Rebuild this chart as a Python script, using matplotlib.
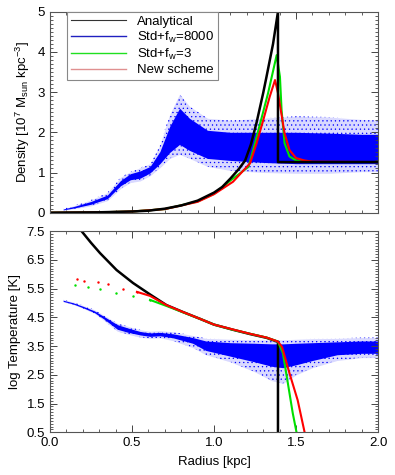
import matplotlib
matplotlib.use('Agg')
import matplotlib.pyplot as plt
from matplotlib.ticker import MultipleLocator

plt.rcParams['font.family'] = ['Liberation Sans', 'DejaVu Sans']
plt.rcParams['mathtext.fontset'] = 'custom'
plt.rcParams['mathtext.rm'] = 'Liberation Sans'
plt.rcParams['mathtext.it'] = 'Liberation Sans'
plt.rcParams['hatch.linewidth'] = 0.4

BLUE = '#0000ff'
GREEN = '#00e000'
RED = '#ff0000'

# ---- density panel ----
rho_an_r = [0.0, 0.3, 0.5, 0.6, 0.7, 0.8, 0.9, 1.0, 1.05, 1.1, 1.15, 1.19, 1.225, 1.26, 1.3, 1.32, 1.36, 1.39, 1.39, 2.0]
rho_an = [0.0, 0.01, 0.03, 0.05, 0.1, 0.18, 0.3, 0.5, 0.64, 0.85, 1.08, 1.3, 1.7, 2.25, 2.98, 3.38, 4.2, 5.0, 1.26, 1.26]

rho_gr_r = [0.0, 0.3, 0.5, 0.7, 0.9, 1.0, 1.1, 1.21, 1.25, 1.33, 1.382, 1.402, 1.412, 1.43, 1.46, 1.5, 1.55, 2.0]
rho_gr = [0.0, 0.01, 0.03, 0.09, 0.28, 0.47, 0.8, 1.14, 1.73, 2.98, 3.92, 3.38, 2.55, 1.73, 1.4, 1.3, 1.26, 1.26]

rho_rd_r = [0.0, 0.3, 0.5, 0.7, 0.9, 1.0, 1.116, 1.22, 1.26, 1.3, 1.34, 1.372, 1.39, 1.41, 1.43, 1.46, 1.5, 1.55, 1.6, 2.0]
rho_rd = [0.0, 0.01, 0.03, 0.09, 0.27, 0.46, 0.77, 1.23, 1.73, 2.3, 2.89, 3.3, 2.98, 2.48, 1.98, 1.56, 1.36, 1.3, 1.27, 1.26]

# particle cloud (Std+fw=8000): dense core and sparse fringe envelopes
cl_r = [0.08, 0.15, 0.25, 0.35, 0.43, 0.49, 0.55, 0.61, 0.67, 0.73, 0.79, 0.85, 0.96, 1.1, 1.3, 1.5, 1.7, 1.9, 2.0]
cl_hi_fr = [0.1, 0.18, 0.32, 0.5, 0.88, 1.02, 1.12, 1.22, 1.68, 2.45, 2.95, 2.65, 2.35, 2.3, 2.35, 2.4, 2.38, 2.32, 2.3]
cl_hi = [0.09, 0.16, 0.28, 0.44, 0.8, 0.97, 1.04, 1.15, 1.52, 2.15, 2.6, 2.35, 2.05, 2.0, 2.0, 2.0, 1.98, 1.95, 1.95]
cl_lo = [0.07, 0.12, 0.21, 0.35, 0.67, 0.82, 0.86, 0.99, 1.22, 1.5, 1.7, 1.55, 1.35, 1.3, 1.25, 1.22, 1.22, 1.22, 1.22]
cl_lo_fr = [0.06, 0.1, 0.17, 0.3, 0.6, 0.75, 0.79, 0.92, 1.12, 1.35, 1.45, 1.35, 1.15, 1.05, 1.0, 0.98, 0.98, 1.02, 1.02]

# ---- temperature panel ----
t_an_r = [0.193, 0.25, 0.305, 0.406, 0.506, 0.61, 0.71, 0.81, 0.915, 1.0, 1.116, 1.22, 1.32, 1.39, 1.39]
t_an = [7.5, 7.1, 6.74, 6.15, 5.7, 5.3, 4.93, 4.69, 4.45, 4.25, 4.07, 3.92, 3.79, 3.65, 0.0]

t_gr_r = [0.152, 0.23, 0.305, 0.405, 0.506, 0.61, 0.71, 0.81, 0.915, 1.0, 1.116, 1.22, 1.32, 1.39, 1.42, 1.45, 1.48, 1.51]
t_gr = [5.63, 5.56, 5.49, 5.36, 5.26, 5.11, 4.9, 4.68, 4.45, 4.25, 4.07, 3.93, 3.8, 3.66, 3.26, 2.22, 1.17, 0.3]

t_rd_r = [0.163, 0.21, 0.29, 0.355, 0.445, 0.53, 0.61, 0.71, 0.81, 0.915, 1.0, 1.116, 1.22, 1.32, 1.39, 1.415, 1.46, 1.51, 1.56]
t_rd = [5.83, 5.78, 5.72, 5.68, 5.5, 5.39, 5.25, 4.93, 4.69, 4.45, 4.25, 4.08, 3.93, 3.8, 3.66, 3.47, 2.56, 1.62, 0.3]

ct_r = [0.08, 0.14, 0.2, 0.27, 0.33, 0.41, 0.47, 0.55, 0.61, 0.67, 0.75, 0.87, 0.95, 1.1, 1.25, 1.35, 1.42, 1.5, 1.6, 1.75, 1.9, 2.0]
ct_hi_fr = [5.12, 5.04, 4.92, 4.77, 4.57, 4.3, 4.2, 4.07, 4.02, 4.04, 4.0, 3.87, 3.77, 3.74, 3.72, 3.72, 3.72, 3.74, 3.76, 3.77, 3.8, 3.8]
ct_hi = [5.1, 5.01, 4.89, 4.73, 4.53, 4.25, 4.14, 4.01, 3.96, 3.98, 3.93, 3.8, 3.68, 3.62, 3.6, 3.58, 3.58, 3.6, 3.62, 3.65, 3.68, 3.68]
ct_lo = [5.06, 4.97, 4.84, 4.67, 4.44, 4.09, 3.99, 3.89, 3.84, 3.86, 3.79, 3.6, 3.35, 3.15, 2.95, 2.8, 2.75, 2.85, 3.0, 3.2, 3.25, 3.25]
ct_lo_fr = [5.04, 4.95, 4.82, 4.64, 4.39, 4.02, 3.92, 3.81, 3.77, 3.79, 3.69, 3.45, 3.2, 2.95, 2.6, 2.3, 2.2, 2.5, 2.75, 3.0, 3.1, 3.1]

labels = ['Analytical', r'Std+f$_{\rm w}$=8000', r'Std+f$_{\rm w}$=3', 'New scheme']


def cloud(ax, r, lo_fr, lo, hi, hi_fr):
    ax.fill_between(r, lo_fr, hi_fr, color=BLUE, alpha=0.15, linewidth=0)
    ax.fill_between(r, lo_fr, hi_fr, facecolor='none', edgecolor=BLUE, hatch='....', linewidth=0)
    ax.fill_between(r, lo, hi, color=BLUE, linewidth=0)


def style(ax):
    ax.set_xlim(0, 2.0)
    ax.xaxis.set_major_locator(MultipleLocator(0.5))
    ax.xaxis.set_minor_locator(MultipleLocator(0.1))
    ax.yaxis.set_minor_locator(MultipleLocator(0.1))
    ax.tick_params(which='both', direction='in', top=True, right=True, color='#444444', labelsize=9.5)
    ax.tick_params(which='major', length=5, width=0.7)
    ax.tick_params(which='minor', length=2.5, width=0.6)
    for s in ax.spines.values():
        s.set_color('#555555')
        s.set_linewidth(0.8)


fig = plt.figure(figsize=(3.95, 4.75), dpi=100)
ax1 = fig.add_axes([0.1266, 0.5522, 0.8304, 0.4232])
ax2 = fig.add_axes([0.1266, 0.0899, 0.8304, 0.4232])

cloud(ax1, cl_r, cl_lo_fr, cl_lo, cl_hi, cl_hi_fr)
ax1.plot(rho_gr_r, rho_gr, color=GREEN, lw=1.5)
ax1.plot(rho_rd_r, rho_rd, color=RED, lw=1.5)
ax1.plot(rho_an_r, rho_an, color='black', lw=1.8)
ax1.set_ylim(0, 5)
ax1.yaxis.set_major_locator(MultipleLocator(1))
ax1.set_ylabel(r'Density [10$^7$ M$_{\rm sun}$ kpc$^{-3}$]', fontsize=9.5, labelpad=4)
style(ax1)
ax1.tick_params(labelbottom=False)

h = [plt.Line2D([], [], color='#333333', lw=0.8),
     plt.Line2D([], [], color='#2020c0', lw=1.0),
     plt.Line2D([], [], color='#20e020', lw=1.0),
     plt.Line2D([], [], color='#e09090', lw=1.0)]
leg = ax1.legend(h, labels, loc='upper left', bbox_to_anchor=(0.052, 1.0), borderaxespad=0,
                 fancybox=False, framealpha=1, edgecolor='#888888', fontsize=9.5,
                 handlelength=4.2, handletextpad=0.8, labelspacing=0.15, borderpad=0.3)
leg.get_frame().set_linewidth(0.8)

cloud(ax2, ct_r, ct_lo_fr, ct_lo, ct_hi, ct_hi_fr)
ax2.plot(t_an_r, t_an, color='black', lw=1.8)
ax2.plot(t_gr_r[:6], t_gr[:6], ls='none', marker='.', ms=1.5, color=GREEN)
ax2.plot(t_gr_r[5:], t_gr[5:], color=GREEN, lw=1.5)
ax2.plot(t_rd_r[:6], t_rd[:6], ls='none', marker='.', ms=1.5, color=RED)
ax2.plot(t_rd_r[5:], t_rd[5:], color=RED, lw=1.5)
ax2.set_ylim(0.5, 7.5)
ax2.set_yticks([0.5, 1.5, 2.5, 3.5, 4.5, 5.5, 6.5, 7.5])
ax2.set_ylabel('log Temperature [K]', fontsize=9.5, labelpad=4)
ax2.set_xlabel('Radius [kpc]', fontsize=9.5, labelpad=5)
style(ax2)
ax2.set_xticks([0.0, 0.5, 1.0, 1.5, 2.0])
ax2.set_xticklabels(['0.0', '0.5', '1.0', '1.5', '2.0'])

fig.savefig('out.png', dpi=100)
